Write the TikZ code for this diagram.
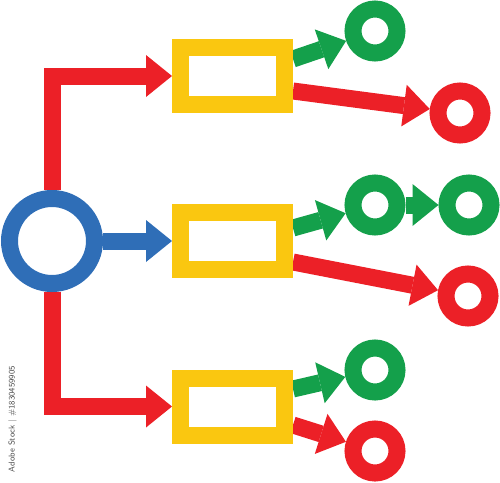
\documentclass[tikz,border=0pt]{standalone}
\usetikzlibrary{arrows.meta,backgrounds}
\definecolor{cred}{HTML}{EC2027}
\definecolor{cyellow}{HTML}{FAC710}
\definecolor{cgreen}{HTML}{14A04B}
\definecolor{cblue}{HTML}{2F6EB7}
\begin{document}
\begin{tikzpicture}[x=1pt,y=-1pt,
  ring/.style={circle,draw,line width=17pt,inner sep=0pt,minimum size=44pt},
  bigring/.style={ring,minimum size=85pt},
  box/.style={rectangle,draw=cyellow,line width=17pt,inner sep=0pt,minimum width=104pt,minimum height=57pt},
  conn/.style={line width=17pt,line join=miter,-{Triangle[length=26pt,width=42pt,line width=0pt]}},
  wmark/.style={rotate=90,font=\sffamily\fontsize{8.5}{10}\selectfont,text=black!70}
]
\useasboundingbox (0,0) rectangle (500,482);
\node[bigring,draw=cblue] (c) at (52,241) {};
\node[box] (b1) at (232.5,76) {};
\node[box] (b2) at (232.5,241) {};
\node[box] (b3) at (232.5,406.5) {};
\node[ring,draw=cgreen] (g1) at (375,31) {};
\node[ring,draw=cred] (r1) at (460,113) {};
\node[ring,draw=cgreen] (g2) at (375,205) {};
\node[ring,draw=cgreen] (g3) at (469,205) {};
\node[ring,draw=cred] (r2) at (468,296) {};
\node[ring,draw=cgreen] (g4) at (375,370) {};
\node[ring,draw=cred] (r3) at (375,451) {};
\node[wmark] (wm) at (12.5,419) {Adobe Stock | \#1830459905};
\begin{scope}[on background layer]
\draw[conn,cred] (c.north) |- (b1.west);
\draw[conn,cred] (c.south) |- (b3.west);
\draw[conn,cblue] (c.east) -- (b2.west);
\draw[conn,cgreen] ([yshift=17pt]b1.east) -- (g1);
\draw[conn,cred] ([yshift=-15pt]b1.east) -- (r1);
\draw[conn,cgreen] ([yshift=13pt]b2.east) -- (g2);
\draw[conn,cgreen] (g2) -- (g3);
\draw[conn,cred] ([yshift=-21pt]b2.east) -- (r2);
\draw[conn,cgreen] ([yshift=17.5pt]b3.east) -- (g4);
\draw[conn,cred] ([yshift=-18.5pt]b3.east) -- (r3);
\end{scope}
\end{tikzpicture}
\end{document}
